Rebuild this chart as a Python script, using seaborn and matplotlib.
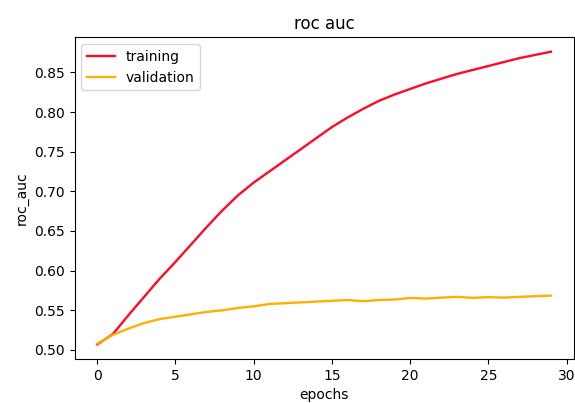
import pandas as pd
import numpy as np
import seaborn as sns
import matplotlib
matplotlib.use("Agg")
import matplotlib.pyplot as plt

# -- roc auc por época -- #

epochs = list(range(30))
training = [0.507, 0.520, 0.544, 0.567, 0.590, 0.611, 0.633, 0.655, 0.676, 0.695,
            0.711, 0.725, 0.739, 0.753, 0.767, 0.781, 0.793, 0.804, 0.814, 0.822,
            0.829, 0.836, 0.842, 0.848, 0.853, 0.858, 0.863, 0.868, 0.872, 0.876]
validation = [0.508, 0.519, 0.527, 0.534, 0.539, 0.542, 0.545, 0.548, 0.550, 0.553,
              0.555, 0.558, 0.559, 0.560, 0.561, 0.562, 0.563, 0.5615, 0.563, 0.5636,
              0.5657, 0.5648, 0.566, 0.567, 0.5657, 0.5666, 0.566, 0.567, 0.5678, 0.5686]

dados = pd.DataFrame({
    "epochs": epochs * 2,
    "roc_auc": training + validation,
    "serie": ["training"] * 30 + ["validation"] * 30,
})

fig = plt.figure(figsize=(5.75, 4.03), dpi=100)
ax = fig.add_axes([0.1296, 0.109, 0.868, 0.799])
sns.lineplot(data=dados, x="epochs", y="roc_auc", hue="serie",
             palette={"training": "#ff0a28", "validation": "#ffb000"},
             linewidth=1.7, ax=ax)
ax.set_title("roc auc")
ax.set_xlabel("epochs")
ax.set_ylabel("roc_auc")
ax.legend(loc="upper left")
fig.savefig("out.png", dpi=100)
